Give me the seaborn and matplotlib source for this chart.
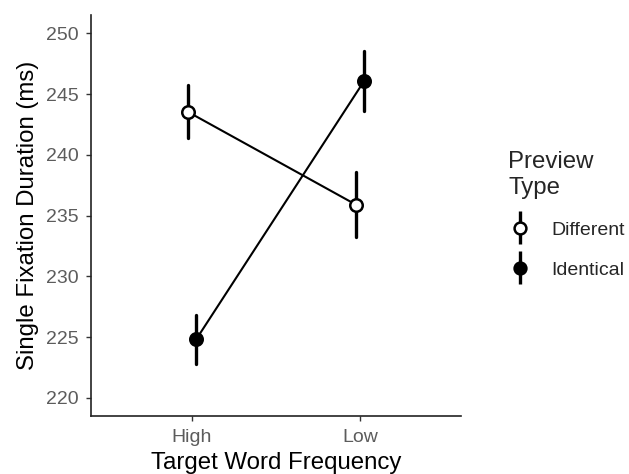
import matplotlib
matplotlib.use("Agg")
import numpy as np
import pandas as pd
import matplotlib.pyplot as plt
import seaborn as sns
from matplotlib.lines import Line2D
from matplotlib.legend_handler import HandlerBase

# ---- data ----
frequency = ["High", "Low"]
preview = ["Different", "Identical"]
means_different = [243.55, 235.9]
means_identical = [224.8, 246.1]
se_different = [2.2, 2.65]
se_identical = [2.05, 2.45]
y_ticks = [220, 225, 230, 235, 240, 245, 250]
face_colors = ["white", "black"]

rows = []
for p, means, ses in [("Different", means_different, se_different),
                      ("Identical", means_identical, se_identical)]:
    for f, m, s in zip(frequency, means, ses):
        for v in (m - s, m, m + s):
            rows.append({"Frequency": f, "Preview": p, "SFD": v})
df = pd.DataFrame(rows)

sns.set_theme(style="ticks")
plt.rcParams["font.family"] = ["Liberation Sans", "DejaVu Sans"]

fig = plt.figure(figsize=(6.29, 4.74), dpi=100)
ax = fig.add_axes([0.1447, 0.1224, 0.5882, 0.8456])

sns.pointplot(data=df, x="Frequency", y="SFD", hue="Preview",
              order=frequency, hue_order=preview,
              estimator="median", errorbar=lambda v: (v.min(), v.max()),
              dodge=0.05, palette=["black", "black"], markers=["o", "o"],
              linestyles=["-", "-"], capsize=0,
              err_kws={"linewidth": 2.4},
              markersize=9, linewidth=1.5, markeredgewidth=1.8,
              legend=False, ax=ax)

marker_lines = [l for l in ax.lines if l.get_marker() not in (None, "None", "", " ")]
marker_lines.sort(key=lambda l: np.mean(l.get_xdata()))
for l in ax.lines:
    l.set_zorder(3)
for i, l in enumerate(marker_lines):
    l.set_zorder(5)
    l.set_markeredgecolor("black")
    l.set_markerfacecolor(face_colors[i])

ax.set_xlim(-0.6, 1.6)
ax.set_ylim(218.5, 251.5)
ax.set_yticks(y_ticks)
ax.set_xlabel("Target Word Frequency", fontsize=17.3, color="black", labelpad=4.5)
ax.set_ylabel("Single Fixation Duration (ms)", fontsize=17.3, color="black", labelpad=5)
ax.tick_params(axis="both", labelsize=14, labelcolor="#5c5c5c", color="#333333",
               length=3.5, width=1)
ax.tick_params(axis="x", pad=6)
ax.tick_params(axis="y", pad=5.5)
for s in ["top", "right"]:
    ax.spines[s].set_visible(False)
for s in ["left", "bottom"]:
    ax.spines[s].set_color("#222222")
    ax.spines[s].set_linewidth(1.2)


class ErrDotHandler(HandlerBase):
    def __init__(self, face):
        super().__init__()
        self.face = face

    def create_artists(self, legend, orig_handle, xdescent, ydescent,
                       width, height, fontsize, trans):
        cx = width / 2 - xdescent
        cy = height / 2 - ydescent
        half = 0.85 * fontsize
        bar = Line2D([cx, cx], [cy - half, cy + half], color="black",
                     linewidth=2.4, solid_capstyle="butt", transform=trans)
        dot = Line2D([cx], [cy], marker="o", markersize=8.5,
                     markerfacecolor=self.face, markeredgecolor="black",
                     markeredgewidth=1.8, linestyle="None", transform=trans)
        return [bar, dot]


handles = [Line2D([], []) for _ in preview]
handler_map = {h: ErrDotHandler(fc) for h, fc in zip(handles, face_colors)}
fig.legend(handles, preview, title="Preview\nType", loc="upper left",
           bbox_to_anchor=(0.78, 0.718), frameon=False, alignment="left",
           fontsize=14, title_fontsize=17.3, handlelength=1.2,
           handletextpad=1.0, labelspacing=1.15, handler_map=handler_map)

fig.savefig("out.png", dpi=100)
